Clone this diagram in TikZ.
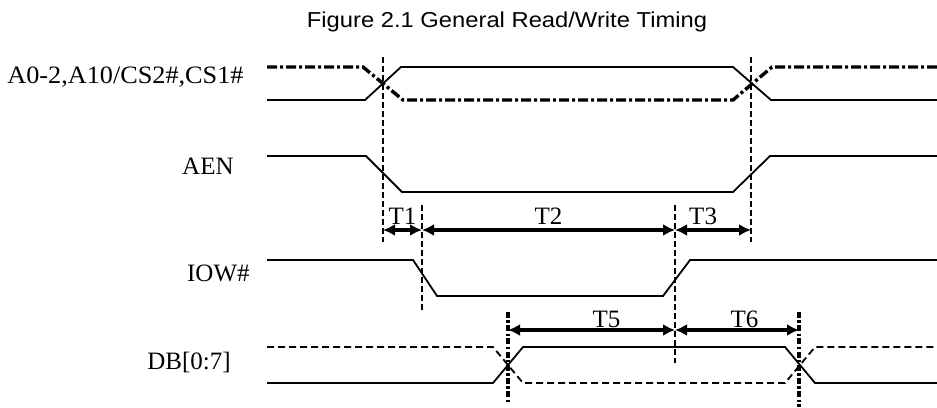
\documentclass[tikz,border=0pt]{standalone}
\usepackage{fontspec}
\setmainfont{Liberation Serif}
\newfontfamily\titlefont{Liberation Sans}
\usepackage{tikz}
\usetikzlibrary{arrows.meta, calc}

\tikzset{
  sig/.style={line width=0.9pt},
  sigdash/.style={line width=1.7pt, dash pattern=on 5pt off 1.5pt on 1.5pt off 1.5pt},
  busdash/.style={line width=0.9pt, dash pattern=on 3.5pt off 2pt},
  tmark/.style={line width=0.6pt, dash pattern=on 3pt off 1.5pt},
  tmarkthick/.style={line width=1.6pt, dash pattern=on 3pt off 1.2pt on 1.2pt off 1.2pt},
  dim/.style={line width=2pt, {Latex[length=6pt,width=6pt]}-{Latex[length=6pt,width=6pt]}},
  siglabel/.style={anchor=base east, inner sep=0pt, font=\fontsize{12.5}{14}\selectfont},
  tlab/.style={anchor=base, inner sep=0pt, font=\fontsize{12.5}{14}\selectfont}
}

\begin{document}
\begin{tikzpicture}[x=0.5pt, y=-0.5pt]
  \useasboundingbox (0,0) rectangle (937,407);

  % Title
  \node (title) at (507,22) {\titlefont\fontsize{10.8}{13}\selectfont\scalebox{1.1}[1]{Figure 2.1 General Read/Write Timing}};

  % Signal names
  \node[siglabel] (addr) at (244,83) {\scalebox{1.05}[1]{A0-2,A10/CS2\#,CS1\#}};
  \node[siglabel] (aen) at (234,174) {AEN};
  \node[siglabel] (iow) at (250,281) {IOW\#};
  \node[siglabel] (db) at (231,369) {DB[0:7]};

  % Waveforms
  \draw[sigdash] (267,67) -- (363,67) -- (403,100) -- (733,100) -- (772,67) -- (937,67);
  \draw[sig] (267,100) -- (365,100) -- (401,67) -- (733,67) -- (771,100) -- (937,100);
  \draw[sig] (267,156) -- (366,156) -- (402,192) -- (733,192) -- (770,156) -- (937,156);
  \draw[sig] (267,260) -- (413,260) -- (437,296) -- (663,296) -- (690,260) -- (937,260);
  \draw[sig] (267,383) -- (493,383) -- (523,347) -- (785,347) -- (815,383) -- (937,383);
  \draw[busdash] (267,347) -- (493,347) -- (523,383) -- (785,383) -- (815,347) -- (937,347);

  % Timing marks
  \coordinate (m1a) at (383,57);  \coordinate (m1b) at (383,242);
  \coordinate (m2a) at (751,57);  \coordinate (m2b) at (751,242);
  \coordinate (m3a) at (422,205); \coordinate (m3b) at (422,313);
  \coordinate (m4a) at (675,205); \coordinate (m4b) at (675,363);
  \coordinate (m5a) at (508,312); \coordinate (m5b) at (508,402);
  \coordinate (m6a) at (799,312); \coordinate (m6b) at (799,407);
  \draw[tmark] (m1a) -- (m1b);
  \draw[tmark] (m2a) -- (m2b);
  \draw[tmark] (m3a) -- (m3b);
  \draw[tmark] (m4a) -- (m4b);
  \draw[tmarkthick] (m5a) -- (m5b);
  \draw[tmarkthick] (m6a) -- (m6b);

  % Intervals
  \coordinate (d1) at (383,230);
  \coordinate (d2) at (422,230);
  \coordinate (d3) at (675,230);
  \coordinate (d4) at (751,230);
  \coordinate (e1) at (508,330);
  \coordinate (e2) at (675,330);
  \coordinate (e3) at (799,330);
  \draw[dim] (d1) -- node[tlab, yshift=3pt] (t1) {T1} (d2);
  \draw[dim] (d2) -- node[tlab, yshift=3pt] (t2) {T2} (d3);
  \draw[dim] (d3) -- node[tlab, pos=0.37, yshift=3pt] (t3) {T3} (d4);
  \draw[dim] (e1) -- node[tlab, pos=0.59, yshift=1.5pt] (t5) {T5} (e2);
  \draw[dim] (e2) -- node[tlab, pos=0.56, yshift=1.5pt] (t6) {T6} (e3);
\end{tikzpicture}
\end{document}
